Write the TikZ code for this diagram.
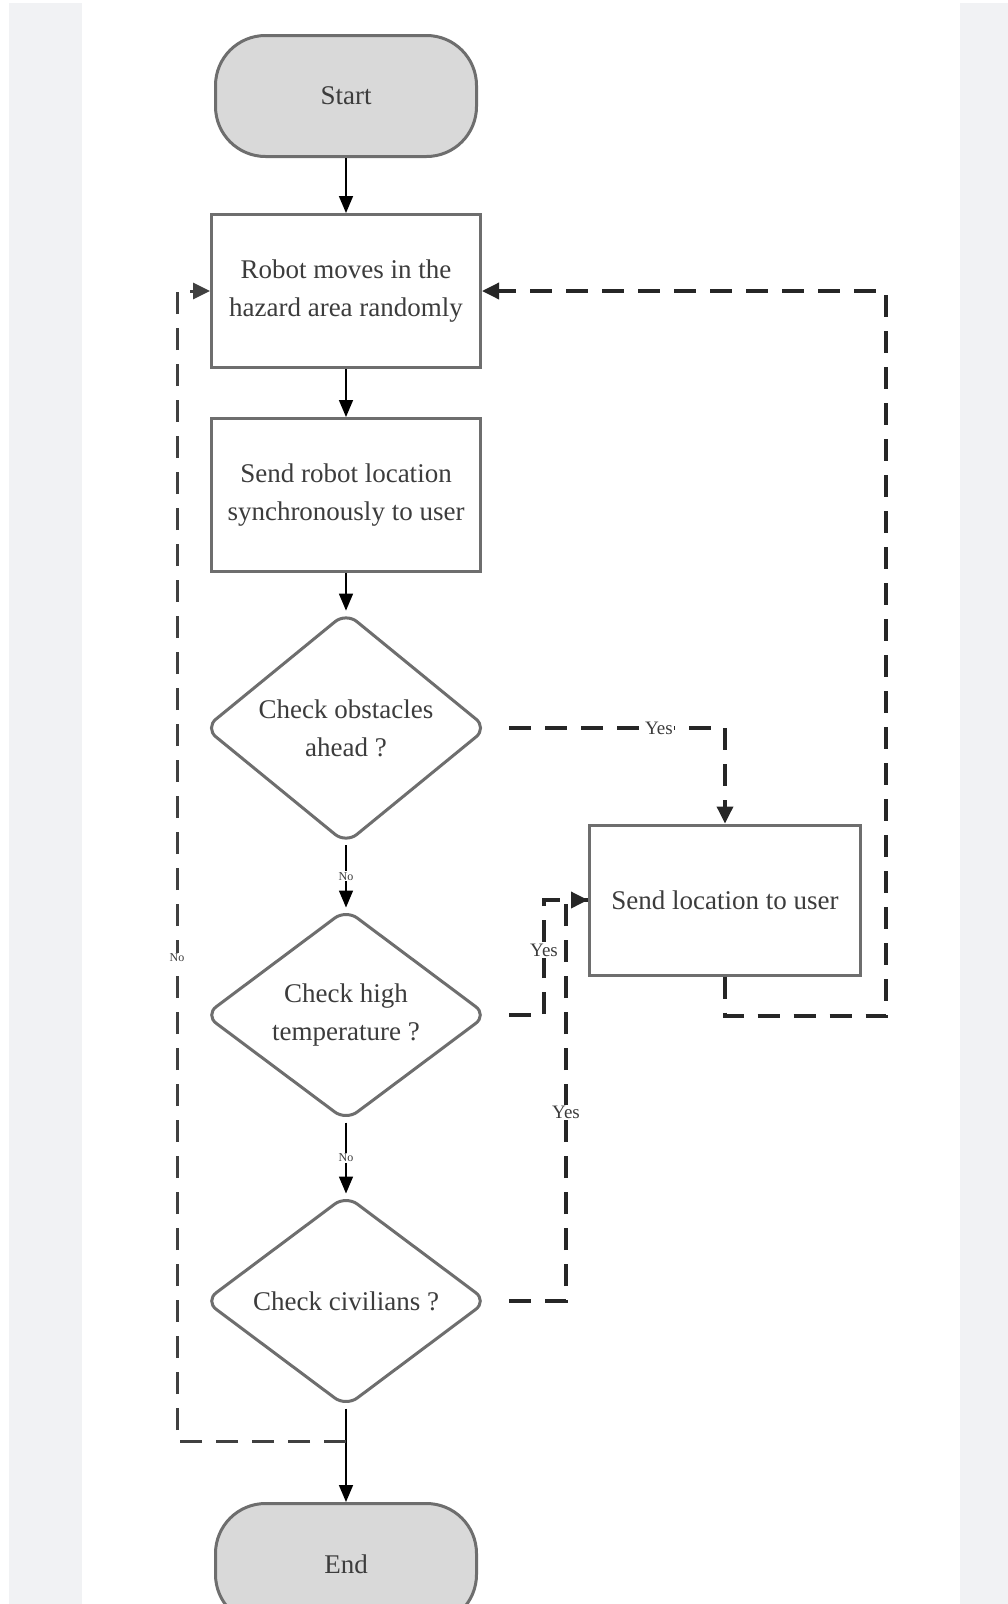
\documentclass[tikz,border=0pt]{standalone}
\usepackage{fontspec}
\setmainfont{Liberation Serif}
\usetikzlibrary{shapes.geometric,arrows.meta}
\definecolor{bggray}{HTML}{F1F2F4}
\definecolor{edgegray}{HTML}{6E6E6E}
\definecolor{txtgray}{HTML}{3C3C3C}
\definecolor{termfill}{HTML}{D9D9D9}
\tikzset{
  x=1pt,y=-1pt,
  base/.style={draw=edgegray,line width=3pt,text=txtgray,font=\fontsize{27}{38}\selectfont,align=center,inner sep=0pt},
  terminal/.style={base,fill=termfill,rounded corners=50pt,minimum width=261pt,minimum height=121pt},
  procbox/.style={base,fill=white,minimum width=269pt,minimum height=153pt},
  decision/.style={base,shape=diamond,fill=white,rounded corners=14pt,minimum width=283pt,minimum height=212pt},
  arr/.style={line width=1.6pt,draw=black,-{Triangle[length=17pt,width=14pt]}},
  dsh/.style={line width=3.5pt,draw=black!85,dash pattern=on 22pt off 14pt},
  dsharr/.style={dsh,-{Triangle[length=17pt,width=16pt]}},
  yeslab/.style={fill=white,inner sep=1.5pt,text=txtgray,font=\fontsize{19}{19}\selectfont},
  nolab/.style={fill=white,inner sep=1pt,text=txtgray,font=\fontsize{12}{12}\selectfont},
}
\begin{document}
\begin{tikzpicture}
\useasboundingbox (0,0) rectangle (1008,1604);
\clip (0,0) rectangle (1008,1604);
\fill[bggray] (9,3) rectangle (1008,1604);
\fill[white] (82,3) rectangle (960,1604);

\node[terminal] (start) at (346,96) {Start};
\node[procbox] (b1) at (346,291) {Robot moves in the\\hazard area randomly};
\node[procbox] (b2) at (346,495) {Send robot location\\synchronously to user};
\node[decision] (d1) at (346,728) {Check obstacles\\ahead ?};
\node[decision] (d2) at (346,1015) {Check high\\temperature ?};
\node[decision] (d3) at (346,1301) {Check civilians ?};
\node[procbox,minimum width=271pt,minimum height=150pt] (loc) at (725,900) {Send location to user};
\node[terminal] (end) at (346,1564) {End};

\coordinate (j2) at (544,900);
\coordinate (j3) at (566,900);
\coordinate (c1) at (886,1016);
\coordinate (n0) at (346,1441);
\coordinate (n1) at (177,1441);

\draw[arr] (start) -- (b1);
\draw[arr] (b1) -- (b2);
\draw[arr] (b2) -- (d1);
\draw[arr] (d1) -- node[nolab]{No} (d2);
\draw[arr] (d2) -- node[nolab]{No} (d3);
\draw[arr] (d3) -- (end);

\draw[dsharr,shorten <=20pt] (d1.east) -| node[yeslab,pos=0.36]{Yes} (loc.north);
\draw[dsh,shorten <=20pt] (d2.east) -| node[yeslab,pos=0.78]{Yes} (j2) -- (loc.west);
\draw[dsharr,shorten <=20pt] (d3.east) -| node[yeslab,pos=0.735]{Yes} (j3) -- (loc.west);
\draw[dsharr] (loc.south) |- (c1) |- (b1.east);
\draw[dsharr,line width=3pt,draw=black!75] (n0) -- (n1) |- node[nolab,pos=0.21]{No} (b1.west);
\end{tikzpicture}
\end{document}
